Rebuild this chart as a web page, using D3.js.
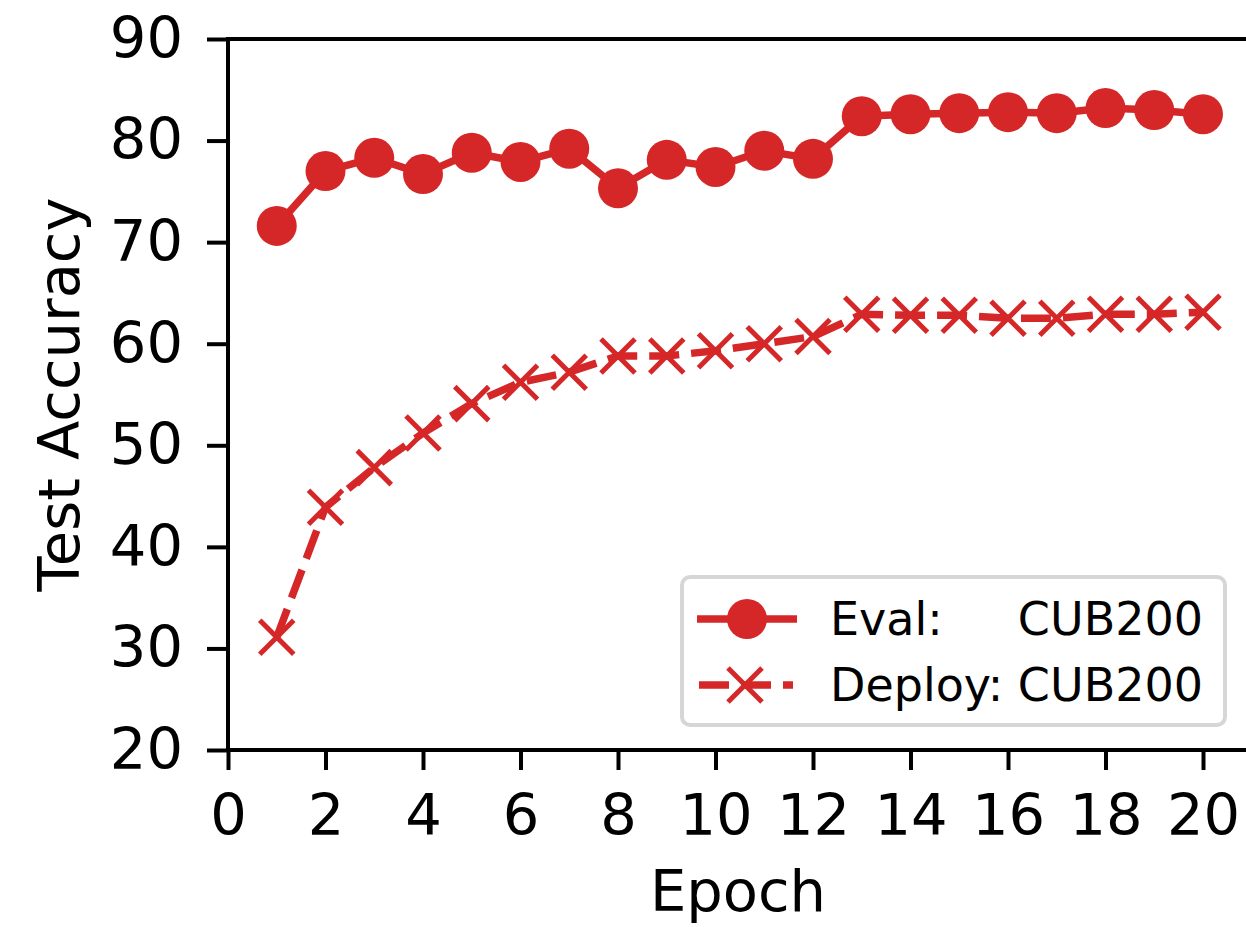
<!DOCTYPE html>
<html>
<head>
<meta charset="utf-8">
<script src="https://cdn.jsdelivr.net/npm/d3@7"></script>
<style>
  body { margin: 0; background: #fff; }
  text { font-family: "DejaVu Sans", sans-serif; fill: #000; }
</style>
</head>
<body>
<div id="vis"></div>
<script>
// data
var epochs    = [1, 2, 3, 4, 5, 6, 7, 8, 9, 10, 11, 12, 13, 14, 15, 16, 17, 18, 19, 20];
var evalAcc   = [71.6, 77.0, 78.3, 76.7, 78.8, 77.9, 79.2, 75.3, 78.1, 77.4, 79.0, 78.2, 82.4, 82.6, 82.7, 82.8, 82.7, 83.2, 83.0, 82.6];
var deployAcc = [31.1, 43.9, 47.8, 51.2, 54.1, 56.2, 57.2, 58.8, 58.8, 59.3, 60.0, 60.7, 62.9, 62.8, 62.8, 62.5, 62.5, 62.9, 62.9, 63.1];
var xTicks = [0, 2, 4, 6, 8, 10, 12, 14, 16, 18, 20];
var yTicks = [20, 30, 40, 50, 60, 70, 80, 90];
var seriesNames = ["Eval:", "Deploy:"];
var datasetName = "CUB200";

// Layout Settings
var W = 1246, H = 927;
var margin = {top: 39, left: 228, bottom: 177};
var red = "#d62728";
var axisFont = "57.5px", legendFont = "46px";

var svg = d3.select("#vis")
			.append("svg")
			.attr("width", W)
			.attr("height", H);

var x = d3.scaleLinear()
	  .domain([0, 21])
	  .range([margin.left, margin.left + 21 * 48.75]);

var y = d3.scaleLinear()
	  .domain([20, 90])
	  .range([H - margin.bottom, margin.top]);

// spines (right one runs off the page like in the original)
svg.append("rect")
   .attr("x", x(0))
   .attr("y", y(90))
   .attr("width", x(21) - x(0))
   .attr("height", y(20) - y(90))
   .attr("fill", "none")
   .attr("stroke", "#000")
   .attr("stroke-width", 4);

// axes
var xAxis = svg.append("g")
			   .attr("transform", "translate(0," + y(20) + ")")
			   .call(d3.axisBottom(x).tickValues(xTicks).tickSize(20).tickPadding(24).tickSizeOuter(0));

var yAxis = svg.append("g")
			   .attr("transform", "translate(" + x(0) + ",0)")
			   .call(d3.axisLeft(y).tickValues(yTicks).tickSize(21).tickPadding(24).tickSizeOuter(0));

[xAxis, yAxis].forEach(function(a) {
	a.select(".domain").remove();
	a.selectAll(".tick line").attr("stroke", "#000").attr("stroke-width", 4);
	a.selectAll(".tick text")
	 .style("font-family", "'DejaVu Sans', sans-serif")
	 .style("font-size", axisFont)
	 .attr("fill", "#000");
});

// axis labels
svg.append("text")
   .attr("x", 738)
   .attr("y", 911)
   .attr("text-anchor", "middle")
   .style("font-size", axisFont)
   .text("Epoch");

svg.append("text")
   .attr("transform", "translate(79," + y(55) + ") rotate(-90)")
   .attr("text-anchor", "middle")
   .style("font-size", axisFont)
   .text("Test Accuracy");

var line = d3.line()
	.x(function(d) { return x(d[0]); })
	.y(function(d) { return y(d[1]); });

var evalPts = epochs.map(function(e, i) { return [e, evalAcc[i]]; });
var deployPts = epochs.map(function(e, i) { return [e, deployAcc[i]]; });

var h = 17;
function xMark(sel) {
	sel.attr("d", "M" + (-h) + "," + (-h) + "L" + h + "," + h + "M" + (-h) + "," + h + "L" + h + "," + (-h))
	   .attr("stroke", red)
	   .attr("stroke-width", 5)
	   .attr("fill", "none");
}

// Eval series
svg.append("path")
   .datum(evalPts)
   .attr("d", line)
   .attr("fill", "none")
   .attr("stroke", red)
   .attr("stroke-width", 7.5);

svg.selectAll(".evalDot")
   .data(evalPts)
   .enter()
   .append("circle")
   .attr("class", "evalDot")
   .attr("cx", function(d) { return x(d[0]); })
   .attr("cy", function(d) { return y(d[1]); })
   .attr("r", 20)
   .attr("fill", red);

// Deploy series
svg.append("path")
   .datum(deployPts)
   .attr("d", line)
   .attr("fill", "none")
   .attr("stroke", red)
   .attr("stroke-width", 7.5)
   .attr("stroke-dasharray", "30,12");

svg.selectAll(".deployX")
   .data(deployPts)
   .enter()
   .append("path")
   .attr("class", "deployX")
   .attr("transform", function(d) { return "translate(" + x(d[0]) + "," + y(d[1]) + ")"; })
   .call(xMark);

/////////   Legend   //////////
var legend = svg.append("g").attr("class", "legend");

legend.append("rect")
	  .attr("x", 682)
	  .attr("y", 577)
	  .attr("width", 543)
	  .attr("height", 148)
	  .attr("rx", 8)
	  .attr("ry", 8)
	  .attr("fill", "#fff")
	  .attr("stroke", "#d6d6d6")
	  .attr("stroke-width", 4);

var rowY = [619, 685];

legend.append("line")
	  .attr("x1", 697).attr("x2", 797)
	  .attr("y1", rowY[0]).attr("y2", rowY[0])
	  .attr("stroke", red).attr("stroke-width", 7.5);
legend.append("circle")
	  .attr("cx", 747).attr("cy", rowY[0]).attr("r", 20).attr("fill", red);

legend.append("line")
	  .attr("x1", 699).attr("x2", 793)
	  .attr("y1", rowY[1]).attr("y2", rowY[1])
	  .attr("stroke", red).attr("stroke-width", 7.5)
	  .attr("stroke-dasharray", "30,12");
legend.append("path")
	  .attr("transform", "translate(745," + rowY[1] + ")")
	  .call(xMark);

var deployText = legend.append("text")
	  .attr("x", 830)
	  .attr("y", rowY[1] + 16)
	  .style("font-size", legendFont)
	  .text(seriesNames[1] + " " + datasetName);

var rightEnd = 830 + deployText.node().getComputedTextLength();

legend.append("text")
	  .attr("x", 830)
	  .attr("y", rowY[0] + 16)
	  .style("font-size", legendFont)
	  .text(seriesNames[0]);

legend.append("text")
	  .attr("x", rightEnd)
	  .attr("y", rowY[0] + 16)
	  .attr("text-anchor", "end")
	  .style("font-size", legendFont)
	  .text(datasetName);
</script>
</body>
</html>
